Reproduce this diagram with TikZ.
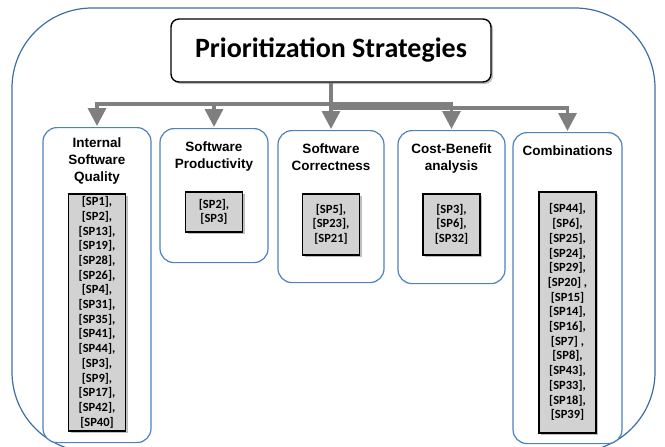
\documentclass[tikz,border=0pt]{standalone}
\usepackage{fontspec}
\setmainfont{Liberation Sans}
\newfontfamily\calibri{Carlito}
\usetikzlibrary{arrows.meta, shadows, positioning}

\definecolor{framebl}{HTML}{3A6EA5}
\definecolor{boxbl}{HTML}{4F81BD}
\definecolor{arrowgray}{HTML}{7F7F7F}
\definecolor{listgray}{HTML}{D2D2D2}

\tikzstyle{frame} = [draw=framebl, line width=1.2pt, rounded corners=80pt]
\tikzstyle{mainbox} = [rectangle, rounded corners=8pt, minimum width=320pt, minimum height=63pt, text centered, draw=black, line width=1.4pt, fill=white, font=\calibri\bfseries\fontsize{28}{30}\selectfont, drop shadow={shadow xshift=2pt, shadow yshift=-2pt, opacity=0.5}]
\tikzstyle{category} = [rectangle, rounded corners=14pt, anchor=north, draw=boxbl, line width=1.2pt, fill=white]
\tikzstyle{cattitle} = [align=center, inner sep=0pt, font=\bfseries\fontsize{13.5}{16.8}\selectfont]
\tikzstyle{splist} = [rectangle, minimum width=57pt, inner sep=2pt, align=center, draw=black, line width=1.5pt, fill=listgray, font=\calibri\bfseries\fontsize{12.5}{14.7}\selectfont, drop shadow={shadow xshift=2pt, shadow yshift=-2pt, opacity=0.5}]
\tikzstyle{arrow} = [line width=3.4pt, draw=arrowgray, shorten >=1pt, -{Triangle[width=18pt,length=18pt]}]
\tikzstyle{trunk} = [line width=3.4pt, draw=arrowgray]

\begin{document}
\begin{tikzpicture}[x=1pt, y=-1pt]
\useasboundingbox (0,0) rectangle (665,447);

\draw [frame] (12,8) rectangle (655,452);

\node (title) [mainbox] at (331,50.5) {Prioritization Strategies};

\node (iq) [category, minimum width=108pt, minimum height=315pt] at (97,127) {};
\node (prod) [category, minimum width=108pt, minimum height=134pt] at (214,128) {};
\node (corr) [category, minimum width=106pt, minimum height=152pt] at (331,130) {};
\node (cb) [category, minimum width=107pt, minimum height=153pt] at (451.5,130) {};
\node (comb) [category, minimum width=109pt, minimum height=311pt] at (567.5,132) {};

\node (iqtitle) [cattitle, below=11pt of iq.north] {Internal\\Software\\Quality};
\node (prodtitle) [cattitle, below=14pt of prod.north] {Software\\Productivity};
\node (corrtitle) [cattitle, below=14pt of corr.north] {Software\\Correctness};
\node (cbtitle) [cattitle, below=14pt of cb.north] {Cost-Benefit\\analysis};
\node (combtitle) [cattitle, below=14pt of comb.north] {Combinations};

\node (iqlist) [splist, minimum height=237pt, below=66pt of iq.north] {[SP1],\\{}[SP2],\\{}[SP13],\\{}[SP19],\\{}[SP28],\\{}[SP26],\\{}[SP4],\\{}[SP31],\\{}[SP35],\\{}[SP41],\\{}[SP44],\\{}[SP3],\\{}[SP9],\\{}[SP17],\\{}[SP42],\\{}[SP40]};
\node (prodlist) [splist, minimum height=40pt, below=63pt of prod.north] {[SP2],\\{}[SP3]};
\node (corrlist) [splist, minimum height=61pt, below=63pt of corr.north] {[SP5],\\{}[SP23],\\{}[SP21]};
\node (cblist) [splist, minimum height=61pt, below=63pt of cb.north] {[SP3],\\{}[SP6],\\{}[SP32]};
\node (comblist) [splist, minimum height=241pt, below=59pt of comb.north] {[SP44],\\{}[SP6],\\{}[SP25],\\{}[SP24],\\{}[SP29],\\{}[SP20] ,\\{}[SP15]\\{}[SP14],\\{}[SP16],\\{}[SP7] ,\\{}[SP8],\\{}[SP43],\\{}[SP33],\\{}[SP18],\\{}[SP39]};

\coordinate (split) at (331,104);
\coordinate (split2) at (331,108);

\draw [arrow] (title.south) -- (corr.north);
\draw [arrow] (split) -| (iq.north);
\draw [arrow] (split) -| (prod.north);
\draw [arrow] (split) -| (cb.north);
\draw [trunk] (title.south) -- (split2);
\draw [arrow] (split2) -| (comb.north);

\end{tikzpicture}
\end{document}
